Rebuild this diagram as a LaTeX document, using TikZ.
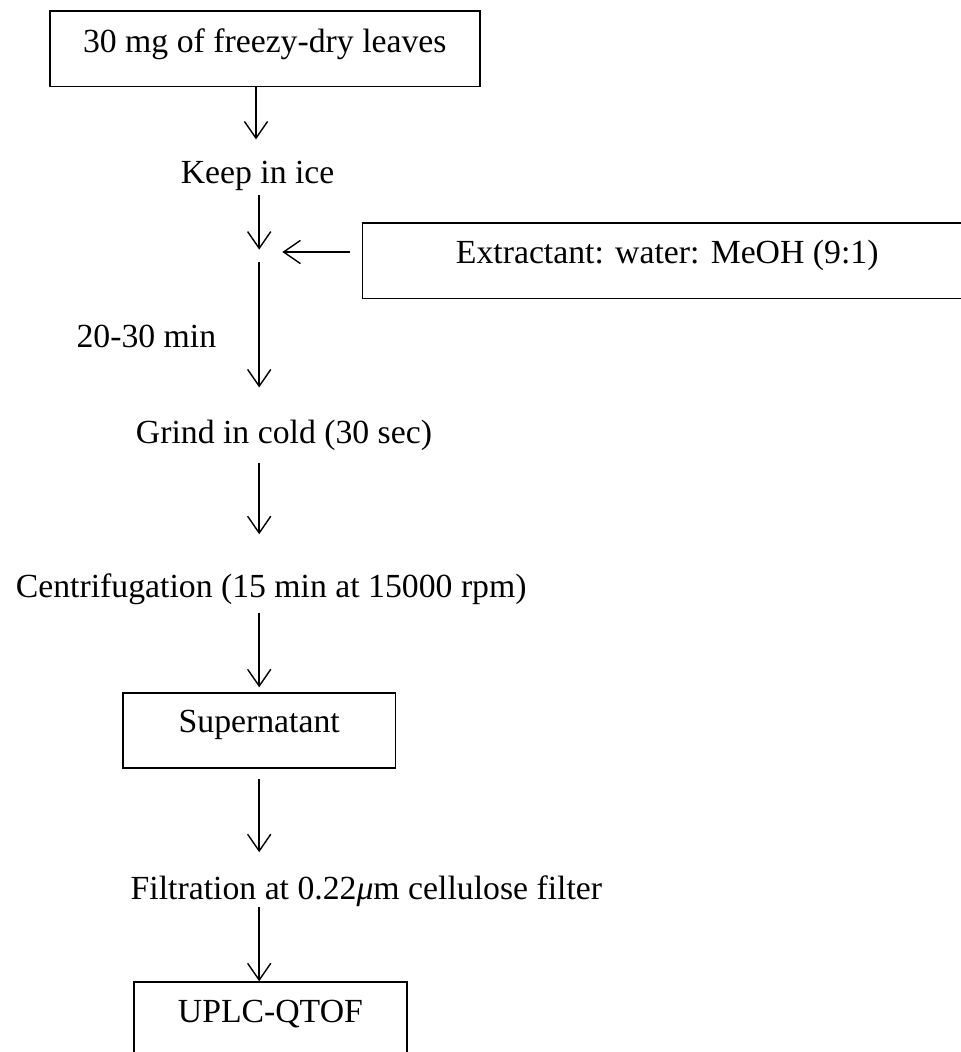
\documentclass[tikz,border=0pt]{standalone}
\usepackage{fontspec}
\setmainfont{Liberation Serif}
\usepackage{tikz}
\usetikzlibrary{arrows.meta,positioning,calc}

\begin{document}
\begin{tikzpicture}[
  font=\fontsize{12}{14}\selectfont,
  procbox/.style={
    draw, line width=0.5pt, anchor=base, inner sep=0pt,
    text height=0.5cm, text depth=0.44cm,
  },
  stage/.style={anchor=base, inner sep=0pt, text height=0.30cm, text depth=0.08cm},
  arr/.style={-{Straight Barb[length=2.1mm, width=2.9mm]}, line width=0.5pt},
]
\useasboundingbox (0,0) rectangle (12.0125,13.15);
\clip (0,0) rectangle (12.0125,13.15);
\node[procbox, minimum width=5.375cm, text height=0.52cm, text depth=0.42cm] (leaves) at (3.31, 12.49)
  {30 mg of freezy-dry leaves};
\node[stage] (ice) at (3.22, 10.86) {Keep in ice};
\node[procbox, minimum width=7.62cm] (extr) at (8.34, 9.86)
  {Extractant: water: MeOH (9:1)};
\coordinate (mix) at (3.24, 10.00);
\node[stage] (mins) at (1.83, 8.80) {20-30 min};
\node[stage] (grind) at (3.55, 7.61) {Grind in cold (30 sec)};
\node[stage] (centr) at (3.39, 5.675) {Centrifugation (15 min at 15000 rpm)};
\node[procbox, minimum width=3.41cm] (super) at (3.24, 3.99) {Supernatant};
\node[stage] (filt) at (4.58, 1.90) {Filtration at 0.22\textit{μ}m cellulose filter};
\node[procbox, minimum width=3.41cm] (uplc) at (3.38, 0.375) {UPLC-QTOF};
% main line
\draw[arr, shorten >=0.24cm] (leaves.south -| 3.20,0) -- (ice.north -| 3.20,0);
\draw[arr, shorten <=0.06cm, shorten >=0.03cm] (ice.south -| mix) -- (mix);
\draw[arr, shorten <=0.13cm, shorten >=0.39cm] (mix) -- (grind.north -| mix);
\draw[arr, shorten <=0.16cm, shorten >=0.49cm] (grind.south -| mix) -- (centr.north -| mix);
\draw[arr, shorten <=0.10cm, shorten >=0.06cm] (centr.south -| mix) -- (super.north -| mix);
\draw[arr, shorten <=0.13cm, shorten >=0.29cm] (super.south -| mix) -- (filt.north -| mix);
\draw[arr] (filt.south -| mix) -- (uplc.north -| mix);
% extractant added
\draw[arr, shorten <=0.15cm, shorten >=0.29cm] (extr.west |- mix) -- (mix);
\end{tikzpicture}
\end{document}
